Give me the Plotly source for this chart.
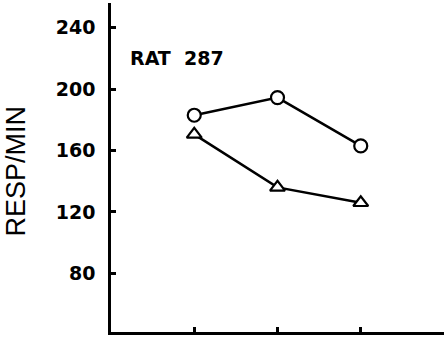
import plotly.graph_objects as go

# Data
sessions = [1, 2, 3]
circle_vals = [183, 194.5, 163]
triangle_vals = [170.5, 136, 126]
y_ticks = [80, 120, 160, 200, 240]
x_ticks = [1, 2, 3, 4]
label_text = "RAT\u00a0\u00a0287"
y_title = "RESP/MIN"

fig = go.Figure()
fig.add_trace(go.Scatter(
    x=sessions, y=circle_vals, mode="lines+markers",
    line=dict(color="black", width=2.5),
    marker=dict(symbol="circle", size=13, color="white",
                line=dict(color="black", width=2.2)),
    showlegend=False,
))
fig.add_trace(go.Scatter(
    x=sessions, y=triangle_vals, mode="lines+markers",
    line=dict(color="black", width=2.5),
    marker=dict(symbol="triangle-up", size=13, color="white",
                line=dict(color="black", width=2.2)),
    showlegend=False,
))

fig.add_annotation(
    x=0.21, y=220, xref="x", yref="y", text=label_text, showarrow=False,
    xanchor="left", yanchor="middle",
    font=dict(family="DejaVu Sans", size=19, color="black", weight="bold"),
)
fig.add_annotation(
    x=-0.285, y=0.488, xref="paper", yref="paper", text=y_title,
    showarrow=False, textangle=-90, xanchor="center", yanchor="middle",
    font=dict(family="Liberation Sans", size=27, color="black"),
)

fig.update_xaxes(
    range=[0, 4], tickvals=x_ticks, ticktext=["" for _ in x_ticks],
    ticks="inside", ticklen=5, tickwidth=2.5, tickcolor="black",
    showline=True, linecolor="black", linewidth=2.5,
    showgrid=False, zeroline=False,
)
fig.update_yaxes(
    range=[41.8, 256.1], tickvals=y_ticks,
    ticks="inside", ticklen=5, tickwidth=2.5, tickcolor="black",
    showline=True, linecolor="black", linewidth=2.5,
    showgrid=False, zeroline=False,
    tickfont=dict(family="DejaVu Sans", size=19, color="black", weight="bold"),
    ticklabelstandoff=9,
)
fig.update_layout(
    width=447, height=338,
    margin=dict(l=111, r=3, t=3, b=6),
    plot_bgcolor="white", paper_bgcolor="white",
)
fig.write_html("out.html")
